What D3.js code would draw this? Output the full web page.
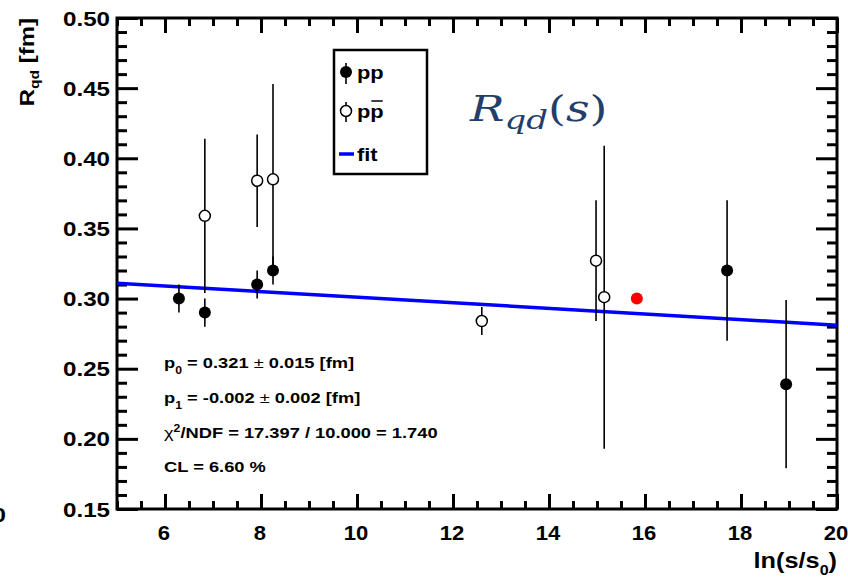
<!DOCTYPE html>
<html>
<head>
<meta charset="utf-8">
<script src="https://cdn.jsdelivr.net/npm/d3@7"></script>
<style>
  body { margin: 0; background: #fff; }
  svg { display: block; font-family: "Liberation Sans", Arial, sans-serif; }
</style>
</head>
<body>
<div id="chart"></div>
<script>
// R_qd vs ln(s/s0), ROOT-style plot redrawn with d3

// pp points (filled)
var ppX = [6.29, 6.83, 7.92, 8.25, 17.71, 18.94]
var ppY = [0.300, 0.290, 0.310, 0.320, 0.320, 0.239]
var ppErr = [0.010, 0.010, 0.010, 0.010, 0.050, 0.060]

// p-pbar points (open)
var pbX = [6.83, 7.92, 8.25, 12.60, 14.98, 15.15]
var pbY = [0.359, 0.384, 0.385, 0.284, 0.327, 0.301]
var pbErr = [0.055, 0.033, 0.068, 0.010, 0.043, 0.108]

// extra red point (prediction)
var redX = [15.83]
var redY = [0.300]

// fit parameters  R = p0 + p1 * ln(s/s0)
var p0 = 0.321, p1 = -0.002
var fitRange = [5, 20]

var xMajor = [6, 8, 10, 12, 14, 16, 18, 20]
var yMajor = [0.15, 0.20, 0.25, 0.30, 0.35, 0.40, 0.45, 0.50]

var W = 848, H = 579
var SX = 1.15   // the original picture is a bit wider than tall

var x = d3.scaleLinear().domain([5, 20]).range([117, 837])
var y = d3.scaleLinear().domain([0.15, 0.50]).range([509, 18])

var svg = d3.select('#chart').append('svg')
    .attr('width', W).attr('height', H)

// text placed at (tx,ty) and stretched horizontally
function label(parent, tx, ty, sx) {
    return parent.append('text')
        .attr('transform', 'translate(' + tx + ',' + ty + ') scale(' + (sx || SX) + ',1)')
}

// minor tick values
var xMinor = d3.range(5, 20.001, 0.5).filter(function (v) { return v % 2 != 0 })
var yMinor = d3.range(15, 50.001, 1).map(function (v) { return v / 100 })
    .filter(function (v) { return Math.round(v * 100) % 5 != 0 })

function tickAxis(gen, tr, vals, size) {
    var g = svg.append('g').attr('transform', tr)
        .call(gen.tickValues(vals).tickSize(size).tickFormat(''))
    g.select('.domain').remove()
    g.selectAll('line').attr('stroke', '#000').attr('stroke-width', 3)
    return g
}

// bottom / top
tickAxis(d3.axisBottom(x), 'translate(0,' + y(0.15) + ')', xMajor, -15)
tickAxis(d3.axisBottom(x), 'translate(0,' + y(0.15) + ')', xMinor, -8)
tickAxis(d3.axisTop(x), 'translate(0,' + y(0.50) + ')', xMajor, -15)
tickAxis(d3.axisTop(x), 'translate(0,' + y(0.50) + ')', xMinor, -8)
// left / right
tickAxis(d3.axisLeft(y), 'translate(' + x(5) + ',0)', yMajor, -21)
tickAxis(d3.axisLeft(y), 'translate(' + x(5) + ',0)', yMinor, -10)
tickAxis(d3.axisRight(y), 'translate(' + x(20) + ',0)', yMajor, -21)
tickAxis(d3.axisRight(y), 'translate(' + x(20) + ',0)', yMinor, -10)

// frame
svg.append('rect')
    .attr('x', x(5)).attr('y', y(0.5))
    .attr('width', x(20) - x(5)).attr('height', y(0.15) - y(0.5))
    .attr('fill', 'none').attr('stroke', '#000').attr('stroke-width', 3)

// tick labels
xMajor.forEach(function (d) {
    label(svg, x(d) - 1, 540, 1.05).attr('text-anchor', 'middle')
        .attr('font-size', 21).attr('font-weight', 'bold').text(d)
})
yMajor.forEach(function (d) {
    label(svg, 110, y(d) + 7.5).attr('text-anchor', 'end')
        .attr('font-size', 21).attr('font-weight', 'bold').text(d.toFixed(2))
})

// clipped label at the far left edge
label(svg, 6, 522).attr('text-anchor', 'end').attr('font-size', 21).attr('font-weight', 'bold')
    .text('0')

// axis titles
var xt = label(svg, 837, 568).attr('text-anchor', 'end').attr('font-size', 22).attr('font-weight', 'bold')
xt.append('tspan').text('ln(s/s')
xt.append('tspan').attr('font-size', 14).attr('dy', 7).text('0')
xt.append('tspan').attr('dy', -7).text(')')

var yt = svg.append('text')
    .attr('transform', 'translate(34,18) rotate(-90) scale(1.2,1)')
    .attr('text-anchor', 'end').attr('font-size', 20).attr('font-weight', 'bold')
yt.append('tspan').text('R')
yt.append('tspan').attr('font-size', 13).attr('dy', 5).text('qd')
yt.append('tspan').attr('dy', -5).text(' [fm]')

// fit line
svg.append('line')
    .attr('x1', x(fitRange[0])).attr('y1', y(p0 + p1 * fitRange[0]))
    .attr('x2', x(fitRange[1])).attr('y2', y(p0 + p1 * fitRange[1]))
    .attr('stroke', '#0000ff').attr('stroke-width', 3.5)

// error bars + markers
function points(xs, ys, es, filled) {
    var g = svg.append('g')
    var d = xs.map(function (v, i) { return {x: v, y: ys[i], e: es[i]} })
    g.selectAll('line').data(d).join('line')
        .attr('x1', function (p) { return x(p.x) }).attr('x2', function (p) { return x(p.x) })
        .attr('y1', function (p) { return y(p.y - p.e) }).attr('y2', function (p) { return y(p.y + p.e) })
        .attr('stroke', '#000').attr('stroke-width', 1.6)
    g.selectAll('circle').data(d).join('circle')
        .attr('cx', function (p) { return x(p.x) }).attr('cy', function (p) { return y(p.y) })
        .attr('r', filled ? 6 : 5.5)
        .attr('fill', filled ? '#000' : '#fff')
        .attr('stroke', '#000').attr('stroke-width', filled ? 0 : 1.5)
}
points(pbX, pbY, pbErr, false)
points(ppX, ppY, ppErr, true)

svg.append('g').selectAll('circle').data(redX).join('circle')
    .attr('cx', function (d) { return x(d) }).attr('cy', function (d, i) { return y(redY[i]) })
    .attr('r', 6).attr('fill', '#ff0000')

// legend
var lg = svg.append('g')
lg.append('rect').attr('x', 334).attr('y', 50).attr('width', 93).attr('height', 124)
    .attr('fill', '#fff').attr('stroke', '#000').attr('stroke-width', 2.5)
lg.append('line').attr('x1', 346).attr('x2', 346).attr('y1', 63).attr('y2', 84)
    .attr('stroke', '#000').attr('stroke-width', 1.6)
lg.append('circle').attr('cx', 346).attr('cy', 72).attr('r', 6).attr('fill', '#000')
lg.append('line').attr('x1', 346).attr('x2', 346).attr('y1', 102).attr('y2', 122)
    .attr('stroke', '#000').attr('stroke-width', 1.6)
lg.append('circle').attr('cx', 346).attr('cy', 111).attr('r', 5.5).attr('fill', '#fff')
    .attr('stroke', '#000').attr('stroke-width', 1.5)
lg.append('line').attr('x1', 339).attr('x2', 354).attr('y1', 154).attr('y2', 154)
    .attr('stroke', '#0000ff').attr('stroke-width', 3.5)
label(lg, 357, 79).attr('font-size', 19).attr('font-weight', 'bold').text('pp')
var pbt = label(lg, 357, 118).attr('font-size', 19).attr('font-weight', 'bold').text('pp')
label(lg, 357, 161).attr('font-size', 19).attr('font-weight', 'bold').text('fit')
// overline on the antiproton
var pw = pbt.node().getSubStringLength(1, 1) * SX
var px0 = 357 + pbt.node().getSubStringLength(0, 1) * SX
lg.append('line').attr('x1', px0 + 1).attr('x2', px0 + pw - 1).attr('y1', 101).attr('y2', 101)
    .attr('stroke', '#000').attr('stroke-width', 1.5)

// title
var tt = label(svg, 470, 121, 1.31)
    .attr('font-family', '"DejaVu Serif", serif').attr('font-style', 'italic')
    .attr('font-size', 35).attr('fill', '#233e6b')
tt.append('tspan').text('R')
tt.append('tspan').attr('font-size', 26).attr('dy', 8).text('qd')
tt.append('tspan').attr('dy', -8).attr('font-style', 'normal').text('(')
tt.append('tspan').text('s')
tt.append('tspan').attr('font-style', 'normal').text(')')

// fit statistics
var st = svg.append('g').attr('font-size', 15).attr('font-weight', 'bold')
function statLine(yy, parts) {
    var t = label(st, 164, yy, 1.22)
    parts.forEach(function (p) {
        var s = t.append('tspan').text(p.t)
        if (p.sub) s.attr('font-size', 10).attr('dy', 6)
        if (p.sup) s.attr('font-size', 10).attr('dy', -6)
        if (p.back) s.attr('dy', p.back)
        if (p.normal) s.attr('font-weight', 'normal')
    })
}
statLine(368, [{t: 'p'}, {t: '0', sub: true}, {t: ' = 0.321 ', back: -6}, {t: '\u00b1', normal: true}, {t: ' 0.015 [fm]'}])
statLine(403, [{t: 'p'}, {t: '1', sub: true}, {t: ' = -0.002  ', back: -6}, {t: '\u00b1', normal: true}, {t: ' 0.002 [fm]'}])
statLine(438, [{t: '\u03c7', normal: true}, {t: '2', sup: true}, {t: '/NDF = 17.397 / 10.000 = 1.740', back: 6}])
statLine(472, [{t: 'CL = 6.60 %'}])
</script>
</body>
</html>
